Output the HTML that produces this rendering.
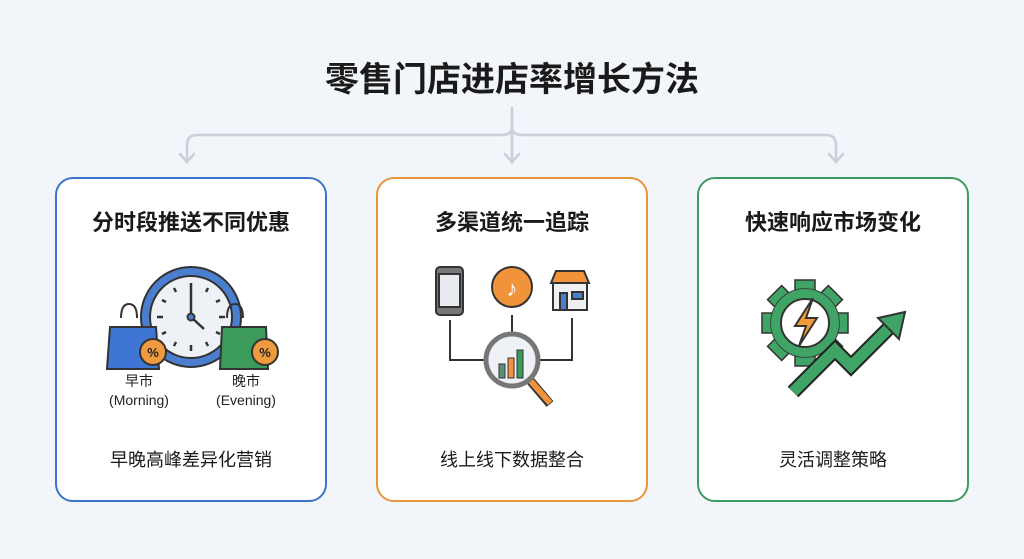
<!DOCTYPE html>
<html><head><meta charset="utf-8"><style>
body{margin:0;width:1024px;height:559px;background:#f2f5f9;font-family:"Liberation Sans","Noto Sans CJK SC",sans-serif;position:relative;overflow:hidden;color:#1a1a1a}
.t{position:absolute;left:0;width:1024px;top:52px;text-align:center;font-size:34px;font-weight:bold}
.card{position:absolute;top:177px;width:268px;height:321px;border:2.5px solid;border-radius:18px;background:#fff}
.h{position:absolute;top:26px;width:100%;text-align:center;font-size:22px;font-weight:bold}
.b{position:absolute;top:267px;width:100%;text-align:center;font-size:18px}
svg{position:absolute;left:0;top:0}
</style></head><body>
<div class="t">零售门店进店率增长方法</div>
<svg width="1024" height="559">
<g fill="none" stroke="#c9d0d9" stroke-width="2.5" stroke-linecap="round">
<path d="M512 108V163"/>
<path d="M187 162V145q0-10 10-10H502q10 0 10-8q0 8 10 8H826q10 0 10 10V162"/>
<path d="M180 154l7 8 7-8M505 154l7 8 7-8M829 154l7 8 7-8"/>
</g>
</svg>
<div class="card" style="left:55px;border-color:#3b74c9"><div class="h">分时段推送不同优惠</div><div class="b">早晚高峰差异化营销</div></div>
<div class="card" style="left:376px;border-color:#e8963c"><div class="h">多渠道统一追踪</div><div class="b">线上线下数据整合</div></div>
<div class="card" style="left:697px;border-color:#3d9c5f"><div class="h">快速响应市场变化</div><div class="b">灵活调整策略</div></div>
<svg width="1024" height="559" stroke="#333" stroke-width="2">
<!-- clock -->
<circle cx="191" cy="317" r="50" fill="#4a7fd0"/>
<circle cx="191" cy="317" r="41" fill="#eef1f6"/>
<g stroke-width="2.5"><path d="M191 283v6M191 345v6M157 317h6M219 317h6M174 288l2 4M208 288l-2 4M174 346l2-4M208 346l-2-4M162 300l4 2M220 300l-4 2M162 334l4-2M220 334l-4-2"/>
<path d="M191 317V289M191 317l13 12"/></g>
<circle cx="191" cy="317" r="3.5" fill="#4a7fd0"/>
<!-- bags -->
<path d="M121 318q0-14 8-14q8 0 8 14" fill="none"/>
<path d="M110 327h46l3 42h-52z" fill="#3f76d6"/>
<circle cx="153" cy="352" r="13" fill="#f09a40"/>
<text x="153" y="357" font-size="13" text-anchor="middle" fill="#222" stroke="none" font-weight="bold">%</text>
<path d="M227 318q0-14 8-14q8 0 8 14" fill="none"/>
<path d="M222 327h44l2 42h-48z" fill="#3c9a5b"/>
<circle cx="265" cy="352" r="13" fill="#f09a40"/>
<text x="265" y="357" font-size="13" text-anchor="middle" fill="#222" stroke="none" font-weight="bold">%</text>
<g stroke="none" fill="#222" font-size="14" text-anchor="middle"><text x="139" y="386">早市</text><text x="139" y="405">(Morning)</text><text x="246" y="386">晚市</text><text x="246" y="405">(Evening)</text></g>
<!-- channels -->
<rect x="436" y="267" width="27" height="48" rx="4" fill="#777"/><rect x="439" y="274" width="21" height="33" fill="#e8ebf0"/>
<circle cx="512" cy="287" r="20" fill="#f0933a"/><text x="512" y="296" font-size="22" text-anchor="middle" fill="#fff" stroke="none">♪</text>
<path d="M551 283l5-12h28l5 12z" fill="#f0933a"/><rect x="553" y="283" width="34" height="27" fill="#eef0f4"/><rect x="560" y="293" width="7" height="17" fill="#4a7fd0"/><rect x="572" y="292" width="11" height="7" fill="#4a7fd0"/>
<path d="M450 320v40h36M512 315v18M572 318v42h-34" fill="none"/>
<path d="M528 378l22 26" stroke="#333" stroke-width="9"/><path d="M529 379l21 24" stroke="#f0933a" stroke-width="6"/>
<circle cx="512" cy="360" r="26" fill="#eef1f5" stroke="#777" stroke-width="5"/>
<rect x="499" y="364" width="6" height="14" fill="#5a8f7a" stroke-width="1"/><rect x="508" y="358" width="6" height="20" fill="#f0933a" stroke-width="1"/><rect x="517" y="350" width="6" height="28" fill="#3c9a5b" stroke-width="1"/>
<!-- gear -->
<g fill="#3fa465" stroke-width="1.5">
<rect x="795" y="280" width="20" height="16"/>
<rect x="795" y="280" width="20" height="16" transform="rotate(45 805 323)"/>
<rect x="795" y="280" width="20" height="16" transform="rotate(90 805 323)"/>
<rect x="795" y="280" width="20" height="16" transform="rotate(135 805 323)"/>
<rect x="795" y="280" width="20" height="16" transform="rotate(180 805 323)"/>
<rect x="795" y="280" width="20" height="16" transform="rotate(225 805 323)"/>
<rect x="795" y="280" width="20" height="16" transform="rotate(270 805 323)"/>
<rect x="795" y="280" width="20" height="16" transform="rotate(315 805 323)"/>
<circle cx="805" cy="323" r="34"/></g>
<circle cx="805" cy="323" r="34" fill="#3fa465" stroke="none"/>
<circle cx="805" cy="323" r="24" fill="#fff"/>
<path d="M813 298l-18 28h11l-7 20 18-28h-11z" fill="#f39a3a"/>
<path d="M793 392l42-42 16 16 40-40" fill="none" stroke="#222" stroke-width="15" stroke-linejoin="miter"/>
<path d="M793 392l42-42 16 16 40-40" fill="none" stroke="#3fa465" stroke-width="11" stroke-linejoin="miter"/>
<path d="M878 318l27-6-6 27z" fill="#3fa465"/>
</svg>
</body></html>
